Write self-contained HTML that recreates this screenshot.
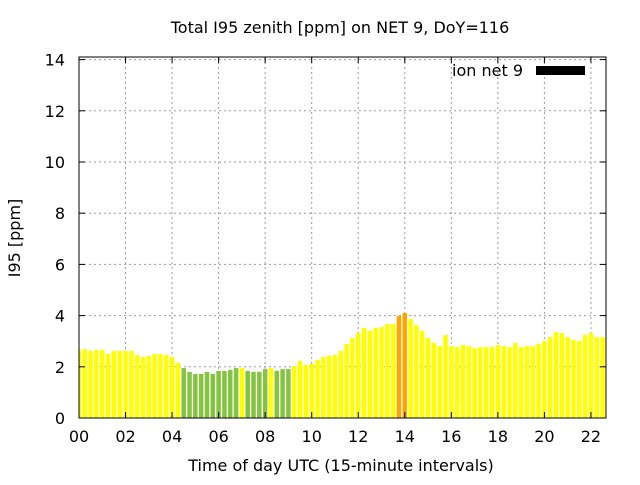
<!DOCTYPE html>
<html><head><meta charset="utf-8"><style>
body{margin:0;background:#fff}
svg text{font-family:"DejaVu Sans","Liberation Sans",sans-serif;font-size:16px;fill:#000}
</style></head><body>
<svg id="chart" width="640" height="480" viewBox="0 0 640 480" xmlns="http://www.w3.org/2000/svg">
<text x="340" y="33" text-anchor="middle">Total I95 zenith [ppm] on NET 9, DoY=116</text>
<g id="grid"></g>
<g id="bars"></g>
<g id="axes"></g>
<text transform="translate(20,238) rotate(-90)" text-anchor="middle">I95 [ppm]</text>
<text x="341" y="471" text-anchor="middle">Time of day UTC (15-minute intervals)</text>
<g>
<text x="523" y="76" text-anchor="end">ion net 9</text>
<rect x="536" y="66" width="49" height="9" fill="#000"/>
</g>
</svg>
<script>
const values=[2.66,2.70,2.62,2.66,2.66,2.50,2.62,2.62,2.62,2.62,2.46,2.38,2.42,2.50,2.50,2.46,2.38,2.15,
1.95,1.80,1.72,1.72,1.80,1.72,1.84,1.84,1.88,1.95,1.95,1.84,1.80,1.80,1.91,1.95,1.84,1.91,1.91,2.03,2.23,2.07,2.11,2.27,2.38,2.43,2.46,2.62,
2.89,3.13,3.32,3.52,3.40,3.52,3.55,3.67,3.67,3.98,4.10,3.87,3.63,3.40,3.13,2.93,2.81,3.24,2.81,2.77,2.85,2.81,2.73,2.77,2.77,2.77,2.85,2.81,2.77,2.93,2.77,2.81,2.81,2.89,3.01,3.16,3.36,3.32,3.16,3.05,3.01,3.24,3.32,3.16,3.16,3.32];
const status="yyyyyyyyyyyyyyyyyyggggggggggyggggyggg"+"yyyyyyyyyyyyyyyyyyoo"+"y".repeat(35);
const xTicks=["00","02","04","06","08","10","12","14","16","18","20","22"];
const yTicks=[0,2,4,6,8,10,12,14];
const L=79,R=606,T=57,B=418,XMAX=(606-79)/23.27,YMAX=(418-57)/25.6;
const NS="http://www.w3.org/2000/svg";
const xs=h=>L+h/XMAX*(R-L), ys=v=>B-v/YMAX*(B-T);
function mk(tag,at,parent){const e=document.createElementNS(NS,tag);for(const k in at)e.setAttribute(k,at[k]);parent.appendChild(e);return e;}
const grid=document.getElementById('grid'),bars=document.getElementById('bars'),axes=document.getElementById('axes');
const cmap={y:"#ffff00",g:"#84c441",o:"#ffa500"};
const pitch=xs(0.25)-xs(0),bw=pitch*0.78;
values.forEach((v,i)=>{
 const c=xs(i*0.25);let x0=Math.max(L,c-bw/2),x1=Math.min(R,c+bw/2);if(x1<=x0)return;
 const r=mk('rect',{x:x0,y:ys(v),width:x1-x0,height:B-ys(v),fill:cmap[status[i]]||"#ffff00"},bars);
 
 
});
xTicks.forEach(t=>{const x=xs(+t);
 if(+t>0){const g=mk('line',{x1:x,x2:x,y1:T,y2:B,stroke:"#999","stroke-dasharray":"2,3"},grid);}
 mk('line',{x1:x,x2:x,y1:B,y2:B-6,stroke:"#000"},axes);mk('line',{x1:x,x2:x,y1:T,y2:T+6,stroke:"#000"},axes);
 const tx=mk('text',{x:x,y:B+24,"text-anchor":"middle"},axes);tx.textContent=t;
 
});
yTicks.forEach(t=>{const y=ys(t);
 if(t>0){const g=mk('line',{x1:L,x2:R,y1:y,y2:y,stroke:"#999","stroke-dasharray":"2,3"},grid);}
 mk('line',{x1:L,x2:L+6,y1:y,y2:y,stroke:"#000"},axes);mk('line',{x1:R,x2:R-6,y1:y,y2:y,stroke:"#000"},axes);
 const tx=mk('text',{x:L-14,y:y+6,"text-anchor":"end"},axes);tx.textContent=t;
 
});
const fr=mk('rect',{x:L,y:T,width:R-L,height:B-T,fill:"none",stroke:"#000"},axes);


</script>
</body></html>
